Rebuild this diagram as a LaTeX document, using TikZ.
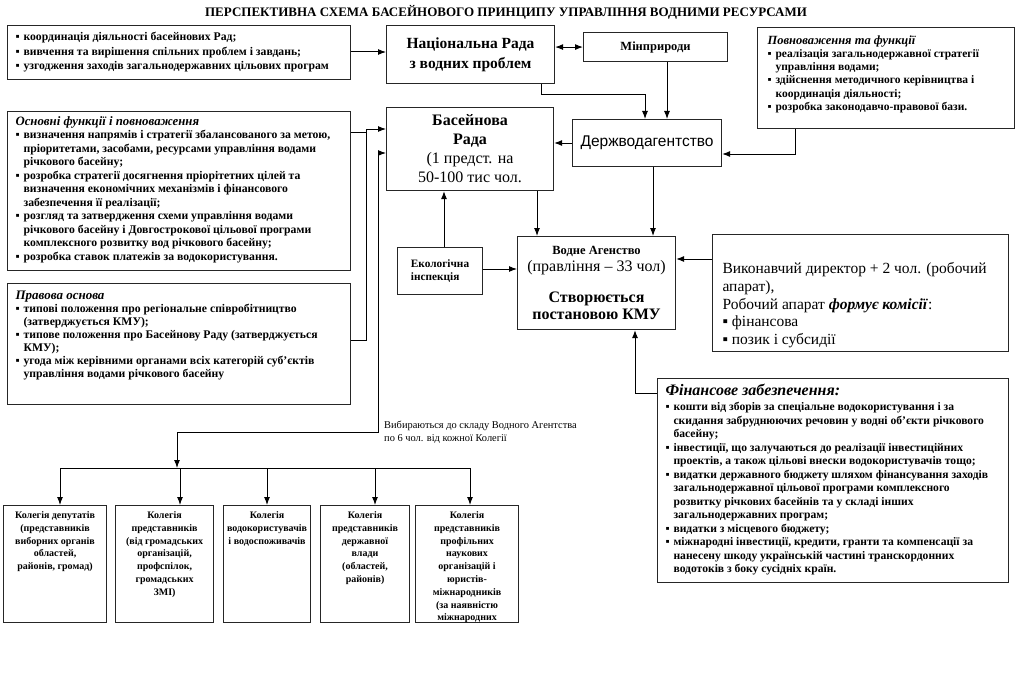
\documentclass[tikz,border=0pt]{standalone}
\usepackage{fontspec}
\setmainfont{Liberation Serif}
\newfontfamily\sansfont{Liberation Sans}
\usetikzlibrary{arrows.meta}
\newcommand\bul{\makebox[8pt][l]{▪}}
\newcommand\ind{\hspace*{8pt}}

\begin{document}
\begin{tikzpicture}[x=1pt,y=-1pt]
	\tikzset{> = {Latex[length=8pt,width=6pt]},
		box/.style = {draw=black!85, line width=1.1pt, anchor=north west, inner sep=0pt, align=center},
		panel/.style = {box, inner xsep=8pt, inner ysep=5pt, align=left, font=\bfseries\fontsize{11.7}{13.5}\selectfont},
		coll/.style = {box, inner xsep=3pt, inner ysep=6pt, font=\bfseries\fontsize{10}{12.8}\selectfont},
		conn/.style = {line width=1pt}}
	\useasboundingbox (0,0) rectangle (1024,674);
	\node[font=\bfseries\fontsize{13}{14}\selectfont] (title) at (506,12) {ПЕРСПЕКТИВНА СХЕМА БАСЕЙНОВОГО ПРИНЦИПУ УПРАВЛІННЯ ВОДНИМИ РЕСУРСАМИ};
	\node[panel, font=\bfseries\fontsize{11.7}{14.5}\selectfont] (boxA) at (7,25) {\parbox[c][44pt][c]{327pt}{\bul координація діяльності басейнових Рад;\\
		\bul вивчення та вирішення спільних проблем і завдань;\\
		\bul узгодження заходів загальнодержавних цільових програм}};
	\node[box, minimum width=168pt, minimum height=58pt, font=\bfseries\fontsize{15.5}{20}\selectfont] (nacrada) at (386,25) {Національна Рада\\з водних проблем};
	\node[box, minimum width=144pt, minimum height=29pt, font=\bfseries\fontsize{12.5}{14}\selectfont] (minpr) at (583,32) {Мінприроди};
	\node[panel, inner xsep=10pt, inner ysep=8pt, font=\bfseries\fontsize{11.5}{13.2}\selectfont] (povn) at (757,27) {\parbox[c][85pt][t]{237pt}{{\itshape\fontsize{12.5}{13}\selectfont Повноваження та функції}\\
		\bul реалізація загальнодержавної стратегії\\
		\ind управління водами;\\
		\bul здійснення методичного керівництва і\\
		\ind координація діяльності;\\
		\bul розробка законодавчо-правової бази.}};
	\node[panel] (osn) at (7,111) {\parbox[c][149pt][t]{327pt}{{\itshape\fontsize{12.8}{13}\selectfont Основні функції і повноваження}\\
		\bul визначення напрямів і стратегії збалансованого за метою,\\
		\ind пріоритетами, засобами, ресурсами управління водами\\
		\ind річкового басейну;\\
		\bul розробка стратегії досягнення пріорітетних цілей та\\
		\ind визначення економічних механізмів і фінансового\\
		\ind забезпечення її реалізації;\\
		\bul розгляд та затвердження схеми управління водами\\
		\ind річкового басейну і Довгострокової цільової програми\\
		\ind комплексного розвитку вод річкового басейну;\\
		\bul розробка ставок платежів за водокористування.}};
	\node[box, minimum width=167pt, minimum height=83pt, font=\fontsize{16}{19}\selectfont] (basrada) at (386,107) {\textbf{Басейнова}\\\textbf{Рада}\\(1 предст. на\\50-100 тис чол.};
	\node[box, minimum width=149pt, minimum height=47pt, font=\sansfont\fontsize{15.5}{18}\selectfont] (derzh) at (572,119) {Держводагентство};
	\node[box, minimum width=85pt, minimum height=47pt, align=left, font=\bfseries\fontsize{11.3}{13}\selectfont] (ekol) at (397,247) {Екологічна\\інспекція};
	\node[box, minimum width=158pt, minimum height=93pt, font=\bfseries\fontsize{16}{17}\selectfont] (vodne) at (517,236) {{\fontsize{12.5}{13}\selectfont Водне Агенство}\\
		{\mdseries(правління – 33 чол)}\\[14pt]
		Створюється\\постановою КМУ};
	\node[box, inner xsep=10pt, inner ysep=4pt, align=left, font=\fontsize{15.5}{17.7}\selectfont] (vykon) at (712,234) {\parbox[c][106pt][b]{276pt}{Виконавчий директор + 2 чол. (робочий\\
		апарат),\\
		Робочий апарат \textbf{\textit{формує комісії}}:\\
		▪ фінансова\\
		▪ позик і субсидії}};
	\node[panel, inner ysep=7pt, font=\bfseries\fontsize{11.7}{13}\selectfont] (prav) at (7,283) {\parbox[c][107pt][t]{327pt}{{\itshape\fontsize{13}{13}\selectfont Правова основа}\\
		\bul типові положення про регіональне співробітництво\\
		\ind (затверджується КМУ);\\
		\bul типове положення про Басейнову Раду (затверджується\\
		\ind КМУ);\\
		\bul угода між керівними органами всіх категорій суб’єктів\\
		\ind управління водами річкового басейну}};
	\node[panel, font=\bfseries\fontsize{11.6}{13.5}\selectfont] (fin) at (657,378) {\parbox[c][194pt][t]{335pt}{{\itshape\fontsize{16}{16}\selectfont Фінансове забезпечення:}\\[2pt]
		\bul кошти від зборів за спеціальне водокористування і за\\
		\ind скидання забруднюючих речовин у водні об’єкти річкового\\
		\ind басейну;\\
		\bul інвестиції, що залучаються до реалізації інвестиційних\\
		\ind проектів, а також цільові внески водокористувачів тощо;\\
		\bul видатки державного бюджету шляхом фінансування заходів\\
		\ind загальнодержавної цільової програми комплексного\\
		\ind розвитку річкових басейнів та у складі інших\\
		\ind загальнодержавних програм;\\
		\bul видатки з місцевого бюджету;\\
		\bul міжнародні інвестиції, кредити, гранти та компенсації за\\
		\ind нанесену шкоду українській частині транскордонних\\
		\ind водотоків з боку сусідніх країн.}};
	\node[anchor=north west, align=left, inner sep=0pt, font=\fontsize{10.4}{12.5}\selectfont] (vybir) at (384,421) {Вибираються до складу Водного Агентства\\по 6 чол. від кожної Колегії};
	\node[coll] (c1) at (3,505) {\parbox[c][105pt][t]{97pt}{\centering Колегія депутатів\\(представників\\виборних органів\\областей,\\районів, громад)}};
	\node[coll] (c2) at (115,505) {\parbox[c][105pt][t]{92pt}{\centering Колегія\\представників\\(від громадських\\організацій,\\профспілок,\\громадських\\ЗМІ)}};
	\node[coll] (c3) at (223,505) {\parbox[c][105pt][t]{81pt}{\centering Колегія\\водокористувачів\\і водоспоживачів}};
	\node[coll] (c4) at (320,505) {\parbox[c][105pt][t]{83pt}{\centering Колегія\\представників\\державної\\влади\\(областей,\\районів)}};
	\node[coll] (c5) at (415,505) {\parbox[c][105pt][t]{97pt}{\centering Колегія\\представників\\профільних\\наукових\\організацій і\\юристів-\\міжнародників\\(за наявністю\\міжнародних}};
	\coordinate (bus) at (177,468);
	\draw[conn,->] (boxA.east |- 0,52) -- (nacrada.west |- 0,52);
	\draw[conn,<->] (nacrada.east |- minpr.west) -- (minpr.west);
	\draw[conn,->] (nacrada.south -| 541,0) -- (541,95) -- (645,95) -- (derzh.north -| 645,0);
	\draw[conn,->] (minpr.south -| 667,0) -- (derzh.north -| 667,0);
	\draw[conn,->] (povn.south -| 795,0) -- (795,154) -- (derzh.east |- 0,154);
	\draw[conn,->] (derzh.west |- 0,143) -- (basrada.east |- 0,143);
	\draw[conn,->] (basrada.south -| 537,0) -- (vodne.north -| 537,0);
	\draw[conn,->] (derzh.south -| 653,0) -- (vodne.north -| 653,0);
	\draw[conn,->] (ekol.north -| 444,0) -- (basrada.south -| 444,0);
	\draw[conn,->] (ekol.east |- 0,269) -- (vodne.west |- 0,269);
	\draw[conn,->] (vykon.west |- 0,259) -- (vodne.east |- 0,259);
	\draw[conn,->] (fin.west |- 0,393) -- (635,393) -- (vodne.south -| 635,0);
	\draw[conn] (osn.east |- 0,132) -- (366,132);
	\draw[conn,->] (prav.east |- 0,340) -- (366,340) -- (366,129) -- (basrada.west |- 0,129);
	\draw[conn,<->] (basrada.west |- 0,153) -- (378,153) -- (378,432) -- (177,432) -- (bus);
	\draw[conn] (60,468) -- (470,468);
	\foreach \n/\x in {c1/60,c2/180,c3/267,c4/375,c5/470}
		\draw[conn,->] (\x,468) -- (\n.north -| \x,0);
\end{tikzpicture}
\end{document}
